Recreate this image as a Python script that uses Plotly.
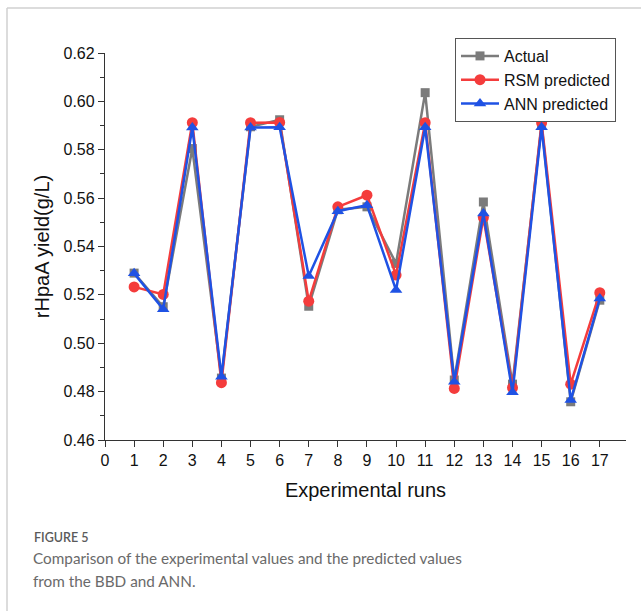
import plotly.graph_objects as go

runs = list(range(1, 18))
actual = [0.529, 0.5151, 0.5805, 0.4856, 0.5895, 0.5924, 0.5153, 0.5552, 0.5564, 0.5330,
          0.6036, 0.4848, 0.5584, 0.4831, 0.5905, 0.4758, 0.5178]
rsm = [0.5233, 0.5202, 0.5912, 0.4837, 0.5912, 0.5913, 0.5174, 0.5564, 0.5612, 0.5282,
       0.5912, 0.4813, 0.5520, 0.4816, 0.5912, 0.4831, 0.5209]
ann = [0.5289, 0.5141, 0.5892, 0.4862, 0.5892, 0.5893, 0.5278, 0.5546, 0.5571, 0.5220,
       0.5893, 0.4841, 0.5536, 0.4797, 0.5893, 0.4765, 0.5185]

y_ticks = [0.46, 0.48, 0.50, 0.52, 0.54, 0.56, 0.58, 0.60, 0.62]
x_ticks = list(range(0, 18))

GRAY = "#7b7b7b"
RED = "#f43c3c"
BLUE = "#1f52e4"

fig = go.Figure()
fig.add_trace(go.Scatter(x=runs, y=actual, name="Actual", mode="lines+markers",
                         line=dict(color=GRAY, width=2.5),
                         marker=dict(symbol="square", size=9, color=GRAY)))
fig.add_trace(go.Scatter(x=runs, y=rsm, name="RSM predicted", mode="lines+markers",
                         line=dict(color=RED, width=2.5),
                         marker=dict(symbol="circle", size=11, color=RED)))
fig.add_trace(go.Scatter(x=runs, y=ann, name="ANN predicted", mode="lines+markers",
                         line=dict(color=BLUE, width=2.5),
                         marker=dict(symbol="triangle-up", size=11, color=BLUE)))

W, H = 641, 611
L, R, T, B = 105, 15, 53, 171
pw, ph = W - L - R, H - T - B


def px(xp):
    return (xp - L) / pw


def py(yp):
    return (H - B - yp) / ph


fig.update_layout(
    width=W, height=H,
    margin=dict(l=L, r=R, t=T, b=B),
    paper_bgcolor="white", plot_bgcolor="white",
    font=dict(family="Liberation Sans, Arial, sans-serif", color="#111"),
    showlegend=True,
    legend=dict(x=px(455), y=py(38), xanchor="left", yanchor="top",
                bgcolor="white", bordercolor="#555", borderwidth=1,
                font=dict(size=16, color="#111"), tracegroupgap=0,
                itemwidth=38),
    xaxis=dict(range=[0, 17.9], tickmode="array", tickvals=x_ticks,
               ticktext=[str(v) for v in x_ticks],
               showgrid=False, zeroline=False, showline=True, linecolor="#333", linewidth=1.3,
               ticks="outside", ticklen=6, tickcolor="#333", tickwidth=1.2,
               tickfont=dict(size=16, color="#111"),
               title=dict(text="Experimental runs", font=dict(size=20, color="#111"), standoff=14)),
    yaxis=dict(range=[0.46, 0.62], tickmode="array", tickvals=y_ticks,
               ticktext=[f"{v:.2f}" for v in y_ticks],
               showgrid=False, zeroline=False, showline=True, linecolor="#333", linewidth=1.3,
               ticks="outside", ticklen=6, tickcolor="#333", tickwidth=1.2,
               minor=dict(dtick=0.01, ticks="outside", ticklen=4, tickcolor="#333", tickwidth=1.2,
                          tick0=0.46, showgrid=False),
               tickfont=dict(size=16, color="#111"),
               title=dict(text="rHpaA yield(g/L)", font=dict(size=20, color="#111"), standoff=8)),
    shapes=[
        dict(type="line", xref="paper", yref="paper", x0=px(7), x1=px(641), y0=py(8), y1=py(8),
             line=dict(color="#d0d0d0", width=1.5)),
        dict(type="line", xref="paper", yref="paper", x0=px(7), x1=px(7), y0=py(8), y1=py(611),
             line=dict(color="#d0d0d0", width=1.5)),
    ],
    annotations=[
        dict(text="FIGURE 5", xref="paper", yref="paper", x=px(32), y=py(537),
             xanchor="left", yanchor="middle", showarrow=False,
             font=dict(family="Lato, sans-serif", size=12.5, color="#5a5a5a", weight=600)),
        dict(text="Comparison of the experimental values and the predicted values",
             xref="paper", yref="paper", x=px(31), y=py(558),
             xanchor="left", yanchor="middle", showarrow=False,
             font=dict(family="Lato, sans-serif", size=15.3, color="#6a6a6a")),
        dict(text="from the BBD and ANN.",
             xref="paper", yref="paper", x=px(31), y=py(581),
             xanchor="left", yanchor="middle", showarrow=False,
             font=dict(family="Lato, sans-serif", size=15.3, color="#6a6a6a")),
    ],
)

fig.write_html("out.html")
